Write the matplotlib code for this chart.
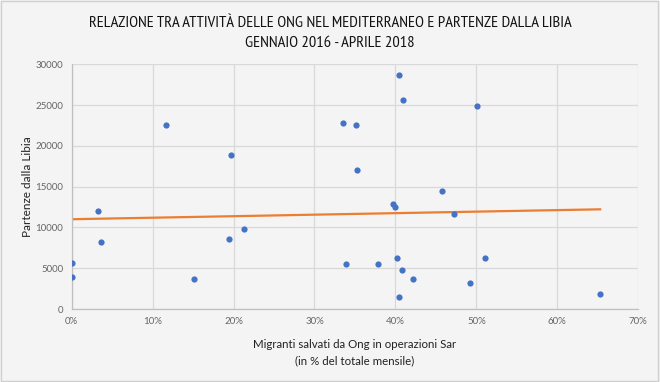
import matplotlib
matplotlib.use("Agg")
import matplotlib.pyplot as plt
import numpy as np
from matplotlib.ticker import FuncFormatter, MultipleLocator

# Share of migrants rescued by NGOs (%) and departures from Libya, Jan 2016 - Apr 2018
ong_share = [0.0, 0.0, 3.2, 3.65, 11.6, 15.1, 19.7, 19.5, 21.3, 33.5, 35.1, 35.2, 33.95,
             40.4, 40.9, 50.1, 45.7, 39.75, 40.0, 47.2, 37.8, 40.2, 51.1, 40.8, 42.2,
             49.2, 40.4, 65.3]
departures = [5600, 3900, 12000, 8200, 22600, 3700, 18900, 8600, 9800, 22800, 22600, 17000,
              5500, 28700, 25650, 24900, 14500, 12900, 12500, 11600, 5500, 6200, 6300, 4800,
              3700, 3200, 1500, 1900]

title_1 = "RELAZIONE TRA ATTIVITÀ DELLE ONG NEL MEDITERRANEO E PARTENZE DALLA LIBIA"
title_2 = "GENNAIO 2016 - APRILE 2018"
xlabel = "Migranti salvati da Ong in operazioni Sar\n(in % del totale mensile)"
ylabel = "Partenze dalla Libia"

W, H = 660, 382
bg = "#f4f4f4"
fig = plt.figure(figsize=(W / 100, H / 100), dpi=100, facecolor=bg)
ax = fig.add_axes([0.1086, 0.191, 0.967 - 0.1086, 0.8317 - 0.191])
ax.set_facecolor(bg)

x = np.array(ong_share)
y = np.array(departures)
ax.scatter(x, y, s=20, color="#4472C4", zorder=3, linewidths=0)

k, b = np.polyfit(x, y, 1)
xt = np.array([0, x.max()])
ax.plot(xt, k * xt + b, color="#ED7D31", lw=1.6, zorder=2)

ax.set_xlim(0, 70)
ax.set_ylim(0, 30000)
ax.xaxis.set_major_locator(MultipleLocator(10))
ax.yaxis.set_major_locator(MultipleLocator(5000))
ax.xaxis.set_major_formatter(FuncFormatter(lambda v, p: f"{int(round(v))}%"))
ax.grid(True, color="#d9d9d9", lw=0.9)
ax.set_axisbelow(True)
for s in ["top", "right"]:
    ax.spines[s].set_visible(False)
for s in ["left", "bottom"]:
    ax.spines[s].set_color("#bfbfbf")
    ax.spines[s].set_linewidth(0.9)
ax.tick_params(length=0, labelsize=7, labelcolor="#666666", pad=6)
for lab in ax.get_xticklabels() + ax.get_yticklabels():
    lab.set_fontfamily("Lato")

ax.set_xlabel(xlabel, fontsize=8.3, color="#222222", family="Lato", labelpad=9, linespacing=1.6)
ax.set_ylabel(ylabel, fontsize=8.5, color="#222222", family="Lato", labelpad=1.5)

tfam = ["PT Sans Narrow", "Open Sans Condensed", "Archivo Narrow", "DejaVu Sans"]
t1 = fig.text(0.5, 1 - 26.7 / H, title_1, ha="center", va="baseline", fontsize=10.5,
              family=tfam, color="#111111")
t2 = fig.text(0.5, 1 - 46.7 / H, title_2, ha="center", va="baseline", fontsize=10.5,
              family=tfam, color="#111111")
fig.canvas.draw()
w = t1.get_window_extent().width
fs = 10.5 * 483.0 / w
t1.set_fontsize(fs)
t2.set_fontsize(fs)

fig.patches.append(plt.Rectangle((0.002, 0.003), 0.995, 0.994, transform=fig.transFigure,
                                 fill=False, edgecolor="#d0d0d0", lw=1))
fig.savefig("out.png", dpi=100, facecolor=bg)
